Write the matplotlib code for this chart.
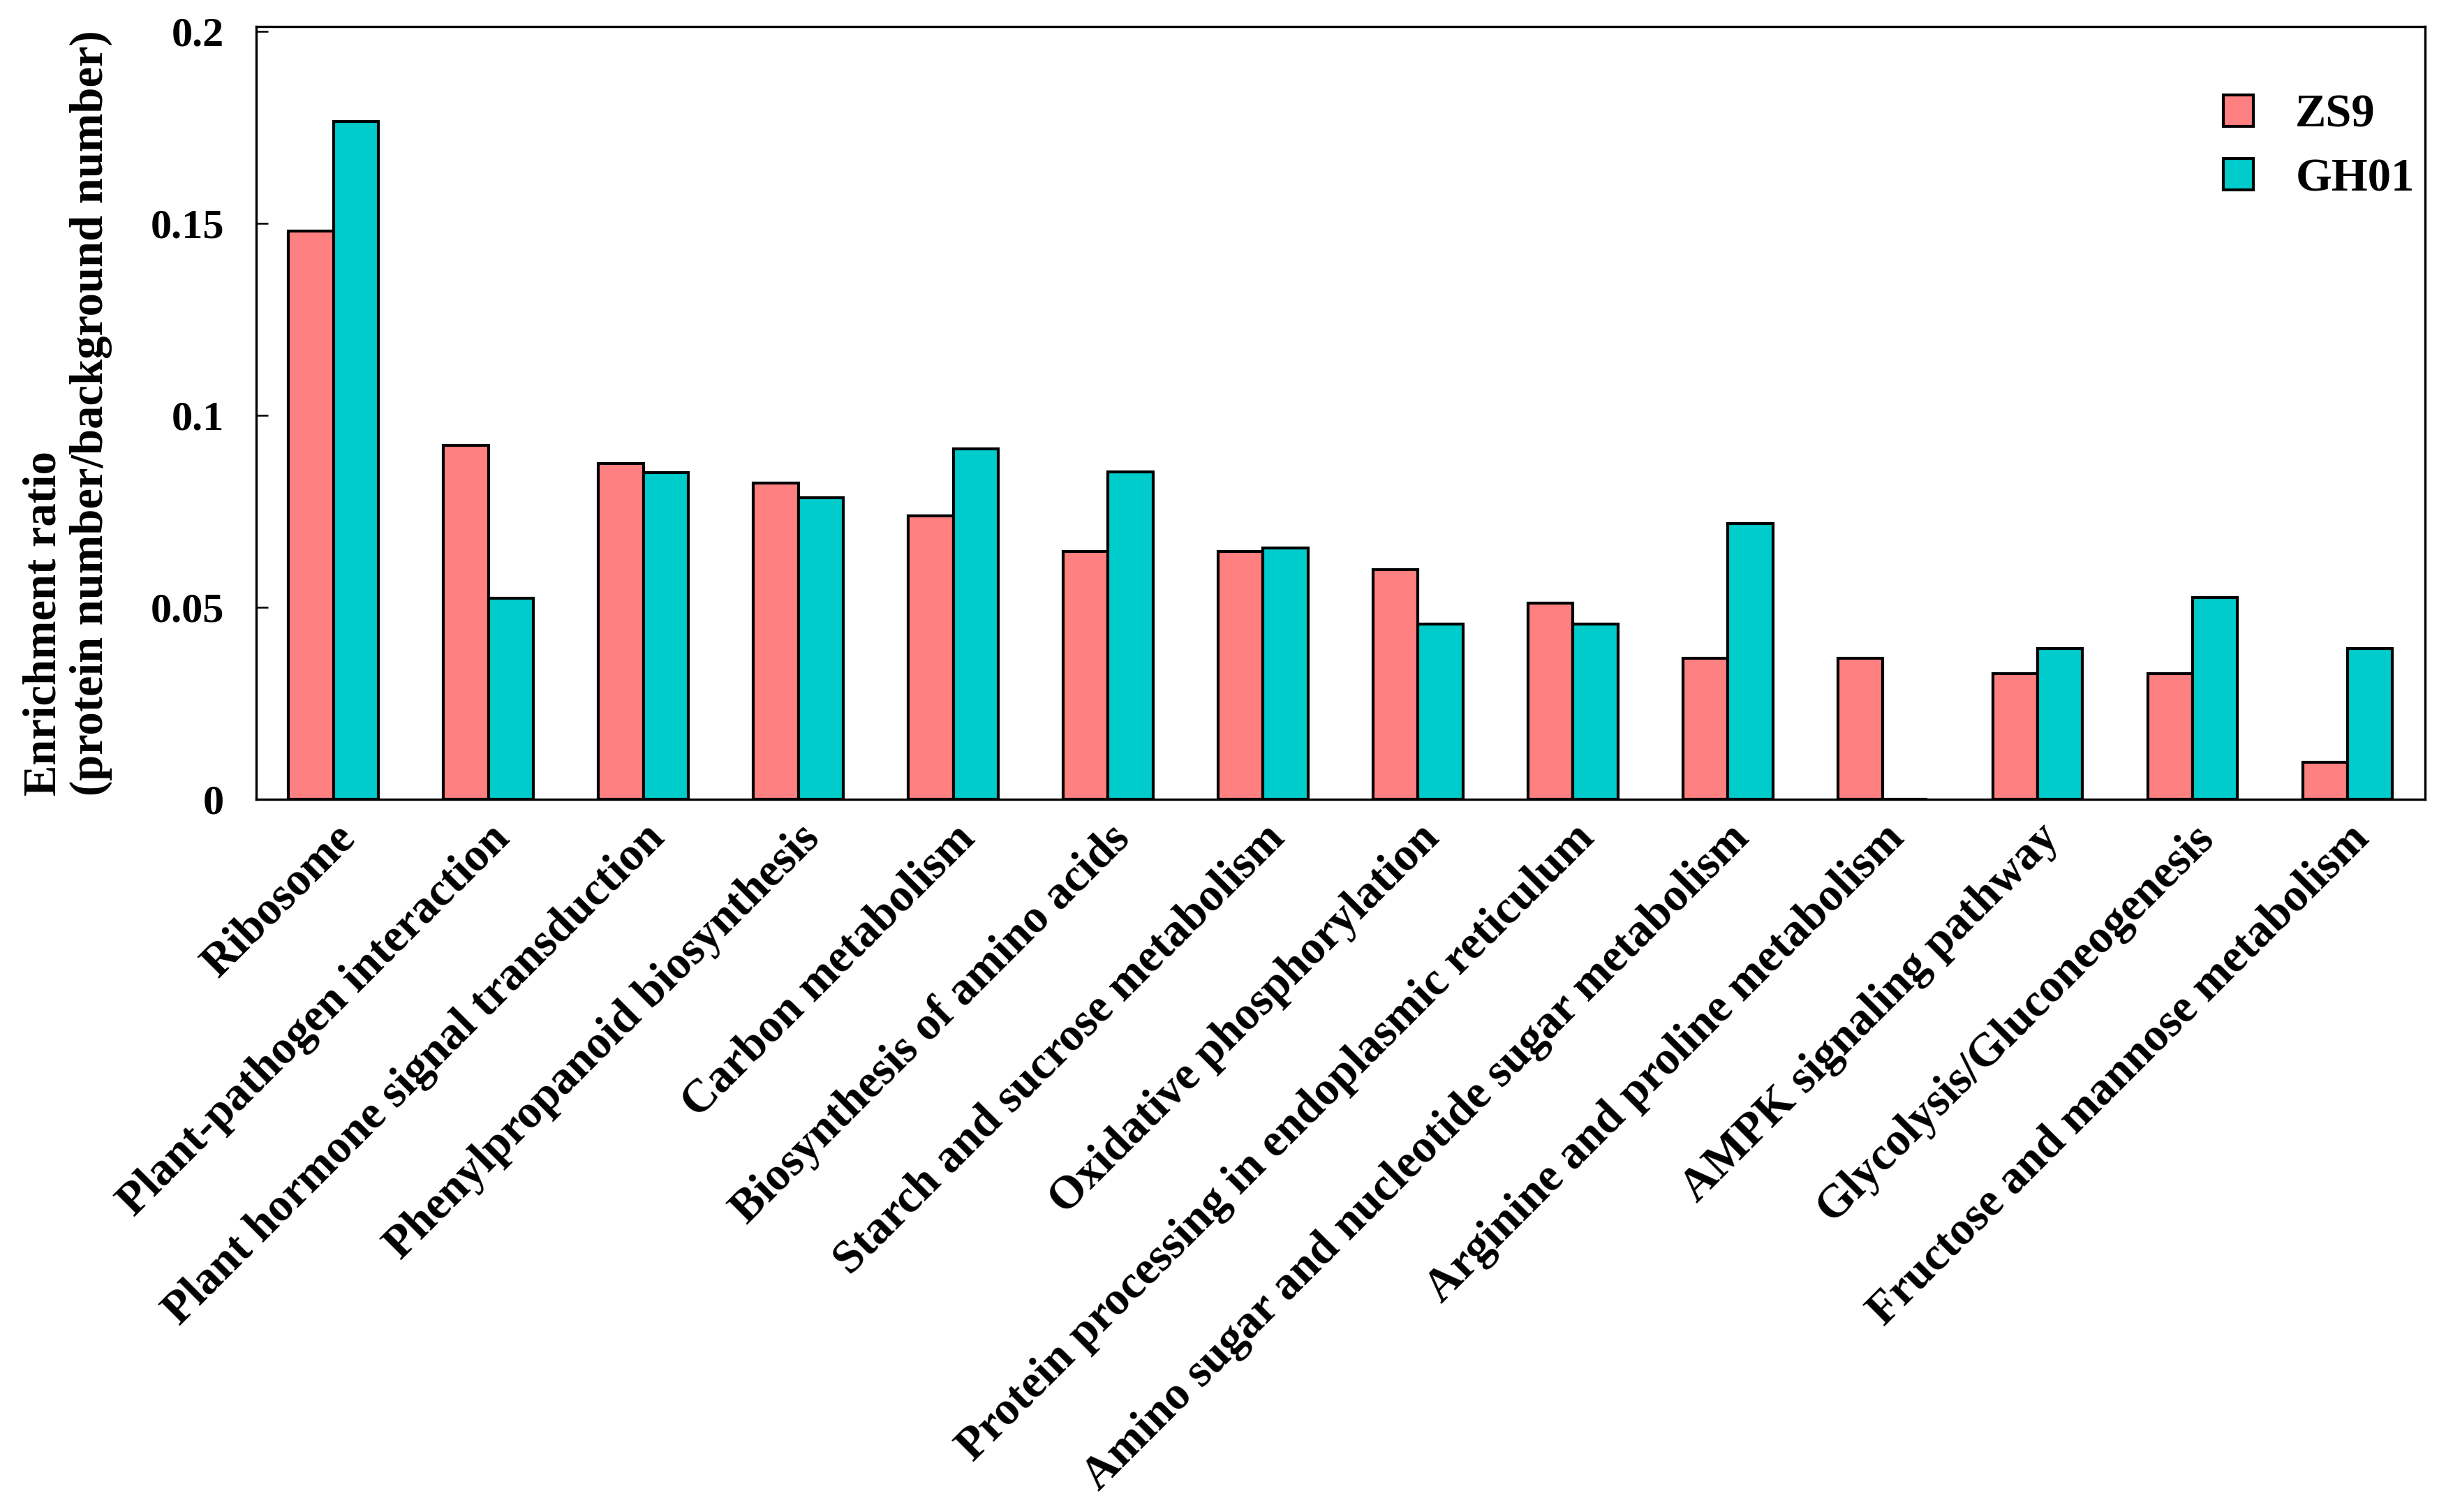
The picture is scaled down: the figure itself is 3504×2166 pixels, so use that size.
import numpy as np
import matplotlib
matplotlib.use('Agg')
import matplotlib.pyplot as plt

# pathways and enrichment ratios
pathways = [
    'Ribosome', 'Plant-pathogen interaction', 'Plant hormone signal transduction',
    'Phenylpropanoid biosynthesis', 'Carbon metabolism', 'Biosynthesis of amino acids',
    'Starch and sucrose metabolism', 'Oxidative phosphorylation',
    'Protein processing in endoplasmic reticulum', 'Amino sugar and nucleotide sugar metabolism',
    'Arginine and proline metabolism', 'AMPK signaling pathway',
    'Glycolysis/Gluconeogenesis', 'Fructose and mannose metabolism',
]
zs9 = [0.148, 0.0922, 0.0875, 0.0824, 0.0739, 0.0645, 0.0645,
       0.0598, 0.0510, 0.0367, 0.0367, 0.0327, 0.0327, 0.0097]
gh01 = [0.1765, 0.0523, 0.0850, 0.0786, 0.0913, 0.0852, 0.0654,
        0.0456, 0.0456, 0.0718, 0.0, 0.0392, 0.0525, 0.0392]
yticks = [0, 0.05, 0.1, 0.15, 0.2]
ytick_labels = ['0', '0.05', '0.1', '0.15', '0.2']

plt.rcParams['font.family'] = ['Liberation Serif', 'DejaVu Serif']
plt.rcParams['font.weight'] = 'bold'

fig = plt.figure(figsize=(11.68, 7.22), dpi=300)
ax = fig.add_axes([0.1047, 0.4714, 0.9914 - 0.1047, 0.9825 - 0.4714])

x = np.arange(len(pathways))
w = 0.29
ax.bar(x - w / 2, zs9, w, color='#FF8080', edgecolor='black', linewidth=1.0, label='ZS9')
ax.bar(x + w / 2, gh01, w, color='#00CCCC', edgecolor='black', linewidth=1.0, label='GH01')

ax.set_xlim(-0.5, len(pathways) - 0.5)
ax.set_ylim(0, 0.2013)
ax.set_yticks(yticks)
ax.set_yticklabels(ytick_labels, fontsize=14.5, fontweight='bold')
ax.tick_params(axis='y', direction='in', length=4, width=0.6, pad=11)
ax.set_xticks(x)
ax.set_xticklabels(pathways, rotation=45, ha='right', rotation_mode='anchor',
                   fontsize=16, fontweight='bold')
ax.tick_params(axis='x', length=0, pad=6)

for s in ax.spines.values():
    s.set_linewidth(0.8)

ax.set_ylabel('Enrichment ratio\n(protein number/background number)',
              fontsize=16, fontweight='bold', multialignment='left',
              labelpad=13, linespacing=1.12)

fig.legend(loc='upper left', bbox_to_anchor=(3185 / 3504, 1 - 135 / 2166),
           frameon=False, handlelength=0.65, handleheight=0.65,
           handletextpad=0.9, labelspacing=0.45, borderpad=0, borderaxespad=0,
           prop={'weight': 'bold', 'size': 16})

fig.savefig('out.png', dpi=300)
